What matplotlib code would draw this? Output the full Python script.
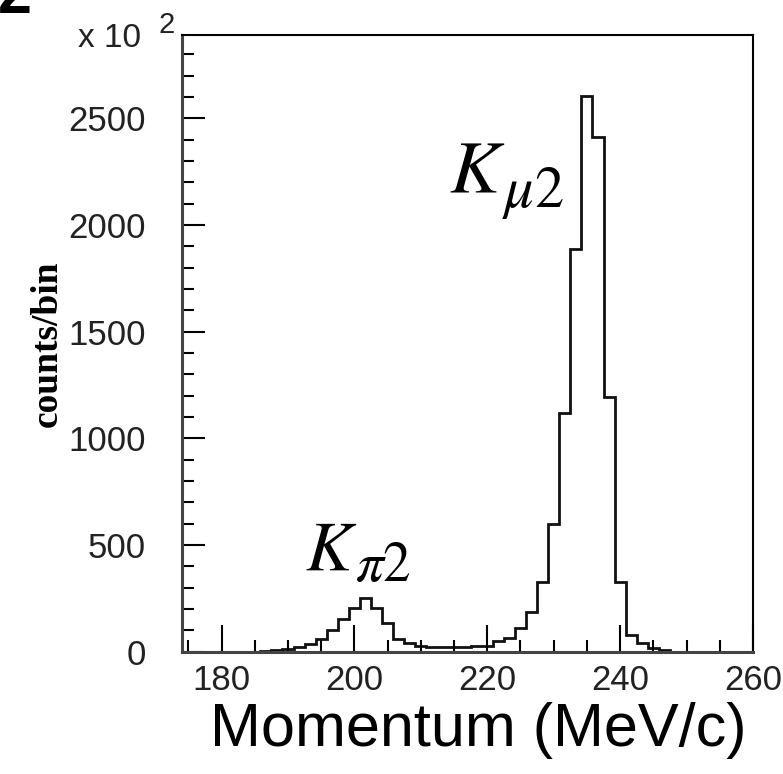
import numpy as np
import matplotlib
matplotlib.use("Agg")
import matplotlib.pyplot as plt
from matplotlib.ticker import MultipleLocator

# histogram of track momentum, bins of 5/3 MeV/c starting at 174.17
BIN_START = 174.1667
BIN_WIDTH = 5.0 / 3.0
COUNTS = [
    0, 0, 0, 0, 0, 0, 0, 5, 8, 12,
    22, 38, 58, 102, 152, 203, 250, 203, 136, 58,
    42, 25, 22, 22, 22, 23, 25, 27, 48, 65,
    112, 186, 325, 600, 1120, 1888, 2602, 2414, 1193, 325,
    78, 39, 16, 10, 0, 0, 0, 0, 0, 0,
    0, 0,
]
X_TICKS = [180, 200, 220, 240, 260]
Y_TICKS = [0, 500, 1000, 1500, 2000, 2500]

plt.rcParams["mathtext.fontset"] = "stix"

W, H = 783, 774
fig = plt.figure(figsize=(W / 100, H / 100), dpi=100)
ax = fig.add_axes([181.7 / W, 1 - 651.7 / H, (753 - 181.7) / W, (651.7 - 35) / H])

edges = BIN_START + BIN_WIDTH * np.arange(len(COUNTS) + 1)
ax.stairs(COUNTS, edges, color="#111111", linewidth=2.0, baseline=0)

ax.set_xlim(174, 260)
ax.set_ylim(0, 2890)

ax.set_xticks(X_TICKS)
ax.set_yticks(Y_TICKS)
ax.xaxis.set_minor_locator(MultipleLocator(5))
ax.yaxis.set_minor_locator(MultipleLocator(100))

tick_font = {"family": "Liberation Sans", "size": 25}
ax.set_xticklabels([str(t) for t in X_TICKS], fontdict=tick_font, color="#222222")
ax.set_yticklabels([str(t) for t in Y_TICKS], fontdict=tick_font, color="#222222")

ax.tick_params(axis="x", which="major", direction="in", length=19.5, width=1.5, pad=9)
ax.tick_params(axis="x", which="minor", direction="in", length=8.5, width=1.5)
ax.tick_params(axis="y", which="major", direction="in", length=16.5, width=1.5, pad=26)
ax.tick_params(axis="y", which="minor", direction="in", length=8.5, width=1.5)

for side in ["left", "bottom"]:
    ax.spines[side].set_linewidth(2.2)
    ax.spines[side].set_color("#444444")
for side in ["top", "right"]:
    ax.spines[side].set_linewidth(1.5)
    ax.spines[side].set_color("black")

# axis titles and multiplier
fig.text(47 / W, 1 - 344 / H, "counts/bin", rotation=90, ha="center", va="center",
         family="Liberation Serif", weight="bold", size=27)
fig.text(478 / W, 1 - 746 / H, "Momentum (MeV/c)", ha="center", va="baseline",
         family="Liberation Sans", size=44)
fig.text(78 / W, 1 - 47 / H, "x 10", ha="left", va="baseline",
         family="Liberation Sans", size=24, color="#222222")
fig.text(158 / W, 1 - 33 / H, "2", ha="left", va="baseline",
         family="Liberation Sans", size=21, color="#222222")

# cropped panel label
fig.text(-2 / W, 1 - 13 / H, "2", ha="left", va="baseline",
         family="Liberation Sans", weight="bold", size=44)

# peak labels: italic K with a large subscript
fig.text(449 / W, 1 - 193 / H, r"$K$", ha="left", va="baseline", size=54)
fig.text(502 / W, 1 - 207 / H, r"$\mu 2$", ha="left", va="baseline", size=42)
fig.text(305 / W, 1 - 570 / H, r"$K$", ha="left", va="baseline", size=50)
fig.text(355 / W, 1 - 581 / H, r"$\pi 2$", ha="left", va="baseline", size=40)

fig.savefig("out.png", dpi=100)
